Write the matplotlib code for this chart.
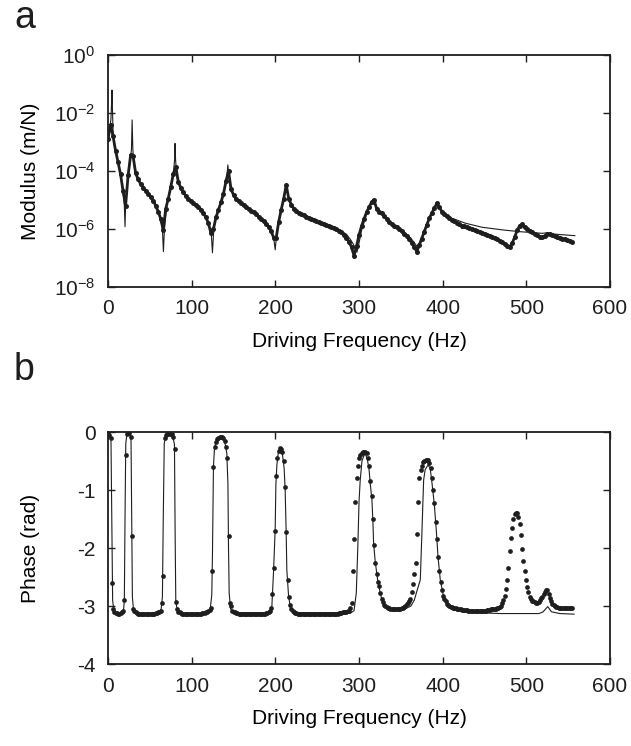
import numpy as np
import matplotlib
matplotlib.use("Agg")
import matplotlib.pyplot as plt
from matplotlib.ticker import FixedLocator, NullLocator

plt.rcParams["font.family"] = ["Liberation Sans", "DejaVu Sans"]
plt.rcParams["axes.unicode_minus"] = False
plt.rcParams["mathtext.fontset"] = "custom"
plt.rcParams["mathtext.rm"] = "Liberation Sans"

# --- measured data (dots), sampled every 3 Hz ---
freq_meas = np.arange(0, 556, 3)
# extra phase samples half way between (phase plot is denser)
freq_meas_mid = np.arange(1.5, 556, 3)

# log10 of modulus (m/N)
mod_meas_log = [
    -2.90, -2.40, -2.80, -3.30, -3.70, -4.12, -4.70, -5.20, -4.15, -3.45,
    -3.50, -4.07, -4.29, -4.45, -4.57, -4.68, -4.79, -4.90, -5.02, -5.20,
    -5.40, -5.65, -6.03, -5.30, -4.95, -4.55, -4.10, -3.85, -4.38, -4.58,
    -4.74, -4.86, -4.96, -5.03, -5.10, -5.17, -5.23, -5.33, -5.46, -5.60,
    -5.80, -6.15, -6.00, -5.60, -5.34, -5.08, -4.78, -4.35, -4.00, -4.62,
    -4.83, -4.97, -5.05, -5.12, -5.19, -5.25, -5.31, -5.37, -5.43, -5.50,
    -5.58, -5.66, -5.74, -5.83, -5.93, -6.08, -6.30, -6.30, -5.75, -5.33,
    -4.95, -4.48, -4.96, -5.16, -5.30, -5.37, -5.44, -5.49, -5.53, -5.57,
    -5.61, -5.65, -5.69, -5.74, -5.77, -5.80, -5.84, -5.87, -5.90, -5.93,
    -5.97, -6.01, -6.06, -6.12, -6.20, -6.30, -6.44, -6.63, -6.92, -6.60,
    -6.20, -5.90, -5.65, -5.42, -5.25, -5.07, -5.00, -5.30, -5.40, -5.46,
    -5.55, -5.66, -5.76, -5.83, -5.89, -5.94, -6.00, -6.07, -6.16, -6.25,
    -6.36, -6.48, -6.62, -6.78, -6.55, -6.33, -6.10, -5.86, -5.63, -5.45,
    -5.28, -5.12, -5.25, -5.40, -5.48, -5.56, -5.63, -5.69, -5.74, -5.79,
    -5.84, -5.88, -5.91, -5.94, -5.97, -6.00, -6.03, -6.06, -6.10, -6.13,
    -6.16, -6.20, -6.24, -6.28, -6.31, -6.36, -6.41, -6.46, -6.52, -6.58,
    -6.62, -6.50, -6.27, -6.05, -5.88, -5.84, -5.92, -6.00, -6.06, -6.12,
    -6.17, -6.21, -6.26, -6.29, -6.24, -6.18, -6.16, -6.20, -6.24, -6.28,
    -6.30, -6.33, -6.36, -6.38, -6.41, -6.45,
]

# phase (rad) at freq_meas
phase_meas = [
    -0.03, -0.10, -3.05, -3.12, -3.13, -3.12, -3.08, -0.40, -0.02, -0.08,
    -3.05, -3.11, -3.13, -3.13, -3.13, -3.13, -3.13, -3.13, -3.13, -3.12,
    -3.11, -3.08, -2.49, -0.06, -0.03, -0.03, -0.08, -2.93, -3.10, -3.12,
    -3.13, -3.13, -3.13, -3.13, -3.13, -3.13, -3.13, -3.13, -3.12, -3.11,
    -3.09, -3.03, -0.60, -0.18, -0.10, -0.08, -0.10, -0.25, -1.80, -3.00,
    -3.10, -3.12, -3.13, -3.13, -3.13, -3.13, -3.13, -3.13, -3.13, -3.13,
    -3.13, -3.13, -3.13, -3.12, -3.11, -3.03, -2.35, -0.75, -0.33, -0.29,
    -0.50, -1.72, -2.85, -3.05, -3.10, -3.12, -3.13, -3.13, -3.13, -3.13,
    -3.13, -3.13, -3.13, -3.13, -3.13, -3.13, -3.13, -3.13, -3.13, -3.13,
    -3.13, -3.13, -3.12, -3.12, -3.11, -3.10, -3.08, -2.95, -1.85, -0.80,
    -0.45, -0.37, -0.34, -0.37, -0.58, -1.10, -1.95, -2.45, -2.65, -2.88,
    -2.98, -3.02, -3.04, -3.05, -3.05, -3.05, -3.05, -3.04, -3.02, -2.97,
    -2.92, -2.75, -2.45, -1.75, -0.80, -0.58, -0.50, -0.48, -0.53, -0.80,
    -1.23, -1.85, -2.40, -2.72, -2.88, -2.96, -3.00, -3.02, -3.04, -3.05,
    -3.06, -3.07, -3.07, -3.07, -3.08, -3.08, -3.08, -3.08, -3.08, -3.08,
    -3.08, -3.07, -3.07, -3.06, -3.05, -3.04, -3.02, -2.95, -2.82, -2.55,
    -2.05, -1.65, -1.42, -1.40, -1.58, -2.02, -2.40, -2.68, -2.85, -2.91,
    -2.93, -2.94, -2.90, -2.84, -2.75, -2.73, -2.87, -2.96, -3.00, -3.02,
    -3.03, -3.04, -3.04, -3.04, -3.03, -3.03,
]

# phase (rad) at freq_meas_mid
phase_meas_mid = [
    -0.05, -2.60, -3.10, -3.12, -3.13, -3.11, -2.90, -0.03, -0.02, -1.80,
    -3.09, -3.12, -3.13, -3.13, -3.13, -3.13, -3.13, -3.13, -3.13, -3.12,
    -3.10, -2.95, -0.10, -0.03, -0.03, -0.04, -0.30, -3.06, -3.11, -3.13,
    -3.13, -3.13, -3.13, -3.13, -3.13, -3.13, -3.13, -3.12, -3.12, -3.10,
    -3.07, -2.40, -0.25, -0.12, -0.08, -0.09, -0.15, -0.45, -2.95, -3.08,
    -3.11, -3.12, -3.13, -3.13, -3.13, -3.13, -3.13, -3.13, -3.13, -3.13,
    -3.13, -3.13, -3.13, -3.12, -3.08, -2.80, -1.70, -0.45, -0.28, -0.35,
    -0.95, -2.55, -2.98, -3.09, -3.12, -3.13, -3.13, -3.13, -3.13, -3.13,
    -3.13, -3.13, -3.13, -3.13, -3.13, -3.13, -3.13, -3.13, -3.13, -3.13,
    -3.13, -3.13, -3.12, -3.11, -3.10, -3.09, -3.03, -2.40, -1.20, -0.58,
    -0.40, -0.35, -0.34, -0.45, -0.85, -1.50, -2.25, -2.58, -2.78, -2.93,
    -3.00, -3.03, -3.05, -3.05, -3.05, -3.05, -3.05, -3.03, -3.00, -2.95,
    -2.88, -2.62, -2.25, -1.20, -0.65, -0.52, -0.48, -0.49, -0.62, -1.00,
    -1.55, -2.15, -2.58, -2.82, -2.92, -2.98, -3.01, -3.03, -3.04, -3.05,
    -3.06, -3.07, -3.07, -3.08, -3.08, -3.08, -3.08, -3.08, -3.08, -3.08,
    -3.08, -3.07, -3.06, -3.06, -3.05, -3.03, -3.00, -2.90, -2.70, -2.35,
    -1.82, -1.50, -1.39, -1.46, -1.78, -2.22, -2.55, -2.76, -2.88, -2.92,
    -2.94, -2.93, -2.87, -2.80, -2.72, -2.80, -2.92, -2.98, -3.01, -3.03,
    -3.03, -3.04, -3.04, -3.03, -3.03,
]

# --- model (thin line) ---
freq_model_a = [
    0, 2, 3.5, 4.3, 4.8, 5.3, 6, 8, 12, 15, 18, 19.5, 20.3, 21, 22.3, 24.3,
    26.3, 28, 28.8, 29.6, 30.5, 32.3, 36.3, 44.3, 52.3, 58.3, 62.2, 65, 66.2,
    67.4, 70.2, 74.2, 78.1, 79.6, 80.1, 80.7, 82.2, 86.1, 92.1, 100.1, 108.1,
    114.1, 120, 123.5, 124.8, 126, 128, 132, 136, 140, 142.3, 143.2, 144.2,
    146, 152, 160, 170, 182, 192, 198, 199.8, 201.5, 204, 208, 212.9, 215.7,
    221.7, 233.6, 249.6, 265.6, 277.5, 285.5, 291, 295, 297.5, 299.5, 303,
    309.4, 314, 316.6, 319, 322, 327, 335, 347, 357, 363, 368, 371.3, 374,
    378, 383, 388, 393.2, 399, 411, 427, 447, 471, 491, 519, 525, 530, 558,
]
mod_model_log = [
    -2.90, -2.60, -2.20, -1.60, -1.21, -1.90, -2.60, -3.15, -3.70, -4.12,
    -4.70, -5.20, -5.92, -5.20, -4.66, -4.08, -3.73, -3.25, -2.24, -3.20,
    -3.68, -4.02, -4.31, -4.66, -4.94, -5.29, -5.57, -6.00, -6.78, -6.00,
    -5.17, -4.66, -4.08, -3.60, -3.05, -3.60, -4.20, -4.54, -4.83, -5.06,
    -5.23, -5.46, -5.80, -6.20, -6.82, -6.20, -5.69, -5.34, -5.00, -4.54,
    -4.10, -3.79, -4.10, -4.54, -4.94, -5.17, -5.36, -5.64, -5.93, -6.30,
    -6.72, -6.20, -5.75, -5.23, -4.45, -4.94, -5.29, -5.52, -5.73, -5.90,
    -6.03, -6.20, -6.42, -6.62, -6.80, -6.55, -6.05, -5.45, -5.15, -4.98,
    -5.15, -5.35, -5.46, -5.74, -5.95, -6.18, -6.36, -6.55, -6.67, -6.45,
    -6.05, -5.69, -5.40, -5.11, -5.37, -5.63, -5.80, -5.94, -6.03, -6.09,
    -6.15, -6.13, -6.17, -6.23,
]

freq_model_b = [
    0, 3.5, 4.5, 5.5, 7, 10, 15, 18.5, 19.5, 20.3, 21.2, 22.5, 26, 27.5,
    28.3, 29.1, 30.5, 33, 60, 63.5, 65, 66, 67.2, 69, 76, 78.5, 79.4, 80.2,
    81, 83, 87, 118, 122, 124, 124.8, 126, 127.2, 130, 134, 139, 142, 143.3,
    144, 144.8, 146.5, 150, 192, 195.8, 197.8, 199.8, 200.6, 201.8, 203.5,
    205.7, 208, 210.5, 211.7, 212.9, 213.7, 215.7, 218, 222, 290, 294, 296.7,
    298.5, 300, 301.4, 303.5, 306, 308, 310, 312, 313.4, 315.4, 316.6, 317.4,
    319.4, 322.2, 325, 327.4, 332, 340, 348, 355, 362, 366, 369, 373.2, 375,
    377.2, 379, 382.4, 385, 387.2, 390, 392.3, 394.4, 397.1, 401, 406, 413,
    430, 470, 515, 520, 525.5, 530, 540, 557,
]
phase_model = [
    -0.02, -0.10, -1.50, -2.90, -3.08, -3.12, -3.13, -3.08, -2.90, -1.50,
    -0.20, -0.04, -0.03, -0.15, -1.50, -2.84, -3.08, -3.13, -3.13, -3.05,
    -2.84, -1.50, -0.20, -0.05, -0.04, -0.15, -0.22, -1.75, -2.93, -3.08,
    -3.13, -3.13, -3.07, -2.81, -2.12, -0.60, -0.28, -0.12, -0.08, -0.13,
    -0.37, -0.90, -2.00, -2.78, -3.05, -3.12, -3.12, -3.01, -2.41, -1.66,
    -0.91, -0.57, -0.35, -0.28, -0.33, -0.63, -1.00, -1.72, -2.38, -2.81,
    -3.03, -3.12, -3.12, -3.08, -2.78, -2.00, -1.20, -0.83, -0.50, -0.40,
    -0.39, -0.48, -0.65, -0.89, -1.17, -1.55, -1.92, -2.24, -2.55, -2.75,
    -2.90, -3.02, -3.07, -3.07, -3.05, -3.00, -2.90, -2.75, -2.55, -1.80,
    -0.83, -0.65, -0.57, -0.62, -0.88, -1.25, -1.69, -2.15, -2.55, -2.84,
    -3.00, -3.07, -3.11, -3.13, -3.13, -3.10, -3.01, -3.10, -3.13, -3.14,
]

ink = "#1e1e1e"
fig = plt.figure(figsize=(6.31, 7.46), dpi=100)
ax_a = fig.add_axes([0.1712, 0.6153, 0.7956, 0.311])
ax_b = fig.add_axes([0.1712, 0.1099, 0.7956, 0.311])

# panel a: modulus (measured drawn as beaded thick trace)
ax_a.plot(freq_model_a, 10.0 ** np.array(mod_model_log), color=ink, lw=0.8)
ax_a.plot(freq_meas, 10.0 ** np.array(mod_meas_log), color=ink, lw=2.0,
          marker="o", ms=3.6, mec=ink, mfc=ink, mew=0)
ax_a.set_yscale("log")
ax_a.set_ylim(1e-8, 1)
ax_a.yaxis.set_major_locator(FixedLocator([1e-8, 1e-6, 1e-4, 1e-2, 1]))
ax_a.yaxis.set_minor_locator(NullLocator())
ax_a.set_ylabel("Modulus (m/N)")

# panel b: phase
ax_b.plot(freq_model_b, phase_model, color=ink, lw=0.8)
for fx, ph in ((freq_meas, phase_meas), (freq_meas_mid, phase_meas_mid)):
    ax_b.plot(fx, ph, ls="none", marker="o", ms=3.4, mec=ink, mfc=ink, mew=0)
ax_b.set_ylim(-4, 0)
ax_b.set_yticks([-4, -3, -2, -1, 0])
ax_b.set_ylabel("Phase (rad)")

for ax in (ax_a, ax_b):
    ax.set_xlim(0, 600)
    ax.set_xticks(range(0, 601, 100))
    ax.set_xlabel("Driving Frequency (Hz)", fontsize=15, labelpad=10)
    ax.yaxis.label.set_size(15)
    ax.tick_params(direction="in", top=True, right=True, length=5,
                   width=1.0, labelsize=15, pad=9, colors=ink)
    for sp in ax.spines.values():
        sp.set_linewidth(1.3)
        sp.set_color(ink)
    ax.yaxis.set_label_coords(-0.135, 0.5)

fig.text(0.022, 0.962, "a", fontsize=27, color=ink, va="baseline")
fig.text(0.022, 0.49, "b", fontsize=27, color=ink, va="baseline")

fig.savefig("out.png", dpi=100)
